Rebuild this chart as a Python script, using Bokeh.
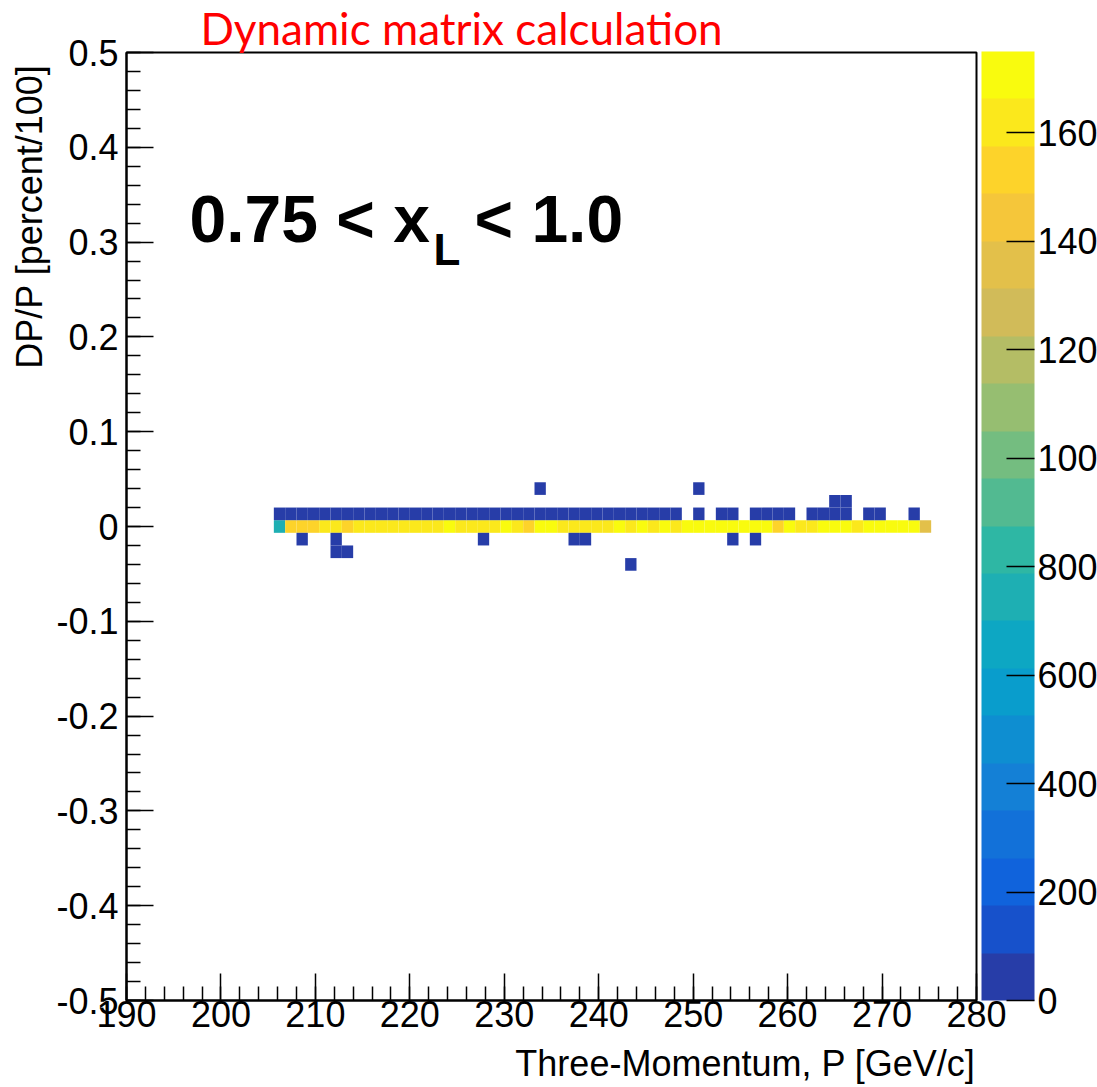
import numpy as np
from bokeh.plotting import figure
from bokeh.models import (LinearColorMapper, ColorBar, FixedTicker, Label,
                          ColumnDataSource, Title)
from bokeh.embed import file_html
from bokeh.resources import INLINE

# ---------------- data ----------------
bin_width_p = 1.2          # GeV/c
bin_height_dp = 1.0 / 75   # percent/100
z_low, z_high = 0, 1750

x_ticks = [190, 200, 210, 220, 230, 240, 250, 260, 270, 280]
x_tick_labels = ["190", "200", "210", "220", "230", "240", "250", "260", "270", "280"]
y_ticks = [-0.5, -0.4, -0.3, -0.2, -0.1, 0.0, 0.1, 0.2, 0.3, 0.4, 0.5]
y_tick_labels = ["-0.5", "-0.4", "-0.3", "-0.2", "-0.1", "0", "0.1", "0.2", "0.3", "0.4", "0.5"]
z_ticks = [0, 200, 400, 600, 800, 1000, 1200, 1400, 1600]

# row dP/P = 0
row_0_p = [206.2, 207.4, 208.6, 209.8, 211.0, 212.2, 213.4, 214.6, 215.8, 217.0,
           218.2, 219.4, 220.6, 221.8, 223.0, 224.2, 225.4, 226.6, 227.8, 229.0,
           230.2, 231.4, 232.6, 233.8, 235.0, 236.2, 237.4, 238.6, 239.8, 241.0,
           242.2, 243.4, 244.6, 245.8, 247.0, 248.2, 249.4, 250.6, 251.8, 253.0,
           254.2, 255.4, 256.6, 257.8, 259.0, 260.2, 261.4, 262.6, 263.8, 265.0,
           266.2, 267.4, 268.6, 269.8, 271.0, 272.2, 273.4, 274.6]
row_0_counts = [742, 1521, 1538, 1545, 1612, 1597, 1552, 1608, 1626, 1589,
                1641, 1617, 1603, 1630, 1594, 1688, 1622, 1611, 1645, 1599,
                1695, 1628, 1540, 1702, 1681, 1619, 1634, 1606, 1648, 1613,
                1677, 1626, 1690, 1615, 1684, 1639, 1711, 1693, 1726, 1680,
                1704, 1698, 1719, 1687, 1549, 1706, 1637, 1621, 1692, 1714,
                1700, 1643, 1697, 1722, 1685, 1708, 1691, 1352]

# row dP/P = +0.0133
row_p1_p = [206.2, 207.4, 208.6, 209.8, 211.0, 212.2, 213.4, 214.6, 215.8, 217.0,
            218.2, 219.4, 220.6, 221.8, 223.0, 224.2, 225.4, 226.6, 227.8, 229.0,
            230.2, 231.4, 232.6, 233.8, 235.0, 236.2, 237.4, 238.6, 239.8, 241.0,
            242.2, 243.4, 244.6, 245.8, 247.0, 248.2, 250.6, 253.0, 254.2, 256.6,
            257.8, 259.0, 260.2, 262.6, 263.8, 265.0, 266.2, 268.6, 269.8, 273.4]
row_p1_counts = [41, 38, 45, 36, 52, 47, 39, 44, 50, 42,
                 37, 48, 46, 40, 43, 51, 35, 49, 41, 38,
                 44, 47, 36, 53, 40, 45, 39, 42, 34, 37,
                 30, 33, 28, 31, 26, 22, 6, 8, 11, 9,
                 12, 7, 10, 14, 9, 16, 13, 5, 7, 3]

# row dP/P = +0.0267
row_p2_p = [265.0, 266.2]
row_p2_counts = [2, 3]

# row dP/P = +0.04
row_p3_p = [233.8, 250.6]
row_p3_counts = [1, 1]

# row dP/P = -0.0133
row_m1_p = [208.6, 212.2, 227.8, 237.4, 238.6, 254.2, 256.6]
row_m1_counts = [2, 3, 1, 2, 2, 1, 1]

# row dP/P = -0.0267
row_m2_p = [212.2, 213.4]
row_m2_counts = [1, 2]

# row dP/P = -0.04
row_m3_p = [243.4]
row_m3_counts = [1]

row_dp = [0.0, 0.01333, 0.02667, 0.04, -0.01333, -0.02667, -0.04]
rows_p = [row_0_p, row_p1_p, row_p2_p, row_p3_p, row_m1_p, row_m2_p, row_m3_p]
rows_counts = [row_0_counts, row_p1_counts, row_p2_counts, row_p3_counts,
               row_m1_counts, row_m2_counts, row_m3_counts]

# ---------------- palette (ROOT kBird, 20 contour levels) ----------------
stops = [0.0, 0.125, 0.25, 0.375, 0.5, 0.625, 0.75, 0.875, 1.0]
red = [0.2082, 0.0592, 0.0780, 0.0232, 0.1802, 0.5301, 0.8186, 0.9956, 0.9764]
green = [0.1664, 0.3599, 0.5041, 0.6419, 0.7178, 0.7492, 0.7328, 0.7862, 0.9832]
blue = [0.5293, 0.8684, 0.8385, 0.7914, 0.6425, 0.4662, 0.3499, 0.1968, 0.0539]
ncont, ncol = 20, 255
palette = []
for i in range(ncont):
    j = int((i + 0.99) * ncol / ncont)
    t = min(j / (ncol - 1), 1.0)
    r = np.interp(t, stops, red)
    g = np.interp(t, stops, green)
    b = np.interp(t, stops, blue)
    palette.append("#%02x%02x%02x" % (int(round(r * 255)), int(round(g * 255)), int(round(b * 255))))

mapper = LinearColorMapper(palette=palette, low=z_low, high=z_high)

xs, ys, zs = [], [], []
for dp, ps, cs in zip(row_dp, rows_p, rows_counts):
    xs += ps
    ys += [dp] * len(ps)
    zs += cs
src = ColumnDataSource(dict(p=xs, dp=ys, count=zs))

# ---------------- figure ----------------
W, H = 1097, 1087
left, top, fw, fh = 126, 51, 850, 949
p = figure(width=W, height=H, x_range=(190, 280), y_range=(-0.5, 0.5),
           output_backend="svg", toolbar_location=None,
           min_border_left=left, min_border_top=top,
           min_border_right=W - left - fw, min_border_bottom=H - top - fh)
p.background_fill_color = "white"
p.border_fill_color = "white"
p.outline_line_color = "black"
p.outline_line_width = 2
p.grid.visible = False

# title (red, above the frame)
p.title.text = "Dynamic matrix calculation"
p.title.align = "left"
p.title.offset = 74
try:
    p.title.standoff = -2
except Exception:
    p.title.standoff = 0
p.title.text_font = "Lato"
p.title.text_font_size = "44px"
p.title.text_font_style = "normal"
p.title.text_color = "red"

p.rect(x="p", y="dp", width=bin_width_p, height=bin_height_dp, source=src,
       fill_color={"field": "count", "transform": mapper}, line_color=None)

axis_font = "Liberation Sans"
fs = "36px"
for ax in (p.xaxis[0], p.yaxis[0]):
    ax.axis_line_width = 2
    ax.major_tick_in = 27
    ax.major_tick_out = 0
    ax.minor_tick_in = 14
    ax.minor_tick_out = 0
    ax.major_tick_line_width = 1.5
    ax.minor_tick_line_width = 1.5
    ax.major_label_text_font = axis_font
    ax.major_label_text_font_size = fs
    ax.major_label_text_color = "black"

p.xaxis.ticker = FixedTicker(ticks=x_ticks,
                             minor_ticks=[190 + 2 * i for i in range(46)])
p.xaxis.major_label_overrides = dict(zip(x_ticks, x_tick_labels))
p.xaxis.major_label_standoff = 0
p.yaxis.ticker = FixedTicker(ticks=y_ticks,
                             minor_ticks=[round(-0.5 + 0.02 * i, 2) for i in range(51)])
p.yaxis.major_label_overrides = dict(zip(y_ticks, y_tick_labels))
p.yaxis.major_label_standoff = 8

# axis titles, right/top aligned as in ROOT
p.add_layout(Title(text=" ", standoff=0, text_font=axis_font,
                   text_font_size="7px"), "below")
p.add_layout(Title(text="Three-Momentum, P [GeV/c]", align="right", offset=1,
                   standoff=4, text_font=axis_font, text_font_size=fs,
                   text_font_style="normal", text_color="black"), "below")
p.add_layout(Title(text="DP/P [percent/100]", align="right", offset=12,
                   standoff=8, text_font=axis_font, text_font_size=fs,
                   text_font_style="normal", text_color="black"), "left")

# colour bar
cb = ColorBar(color_mapper=mapper, ticker=FixedTicker(ticks=z_ticks),
              width=53, height=fh, location=(fw + 5, 0), padding=0, margin=0,
              major_tick_in=28, major_tick_out=0, major_tick_line_color="black",
              major_tick_line_width=1.5, minor_tick_line_color=None,
              label_standoff=3, bar_line_color=None, border_line_color=None,
              background_fill_alpha=0,
              major_label_text_font=axis_font, major_label_text_font_size=fs,
              major_label_text_color="black")
p.add_layout(cb, "center")

# in-frame label "0.75 < x_L < 1.0" (screen units from the frame's bottom-left)
def sx(xref):
    return xref - left

def sy(yref):
    return (top + fh) - yref

p.add_layout(Label(x=sx(189), y=sy(218), x_units="screen", y_units="screen",
                   text="0.75 < x", text_align="left", text_baseline="alphabetic",
                   text_font="Liberation Sans", text_font_style="bold",
                   text_font_size="66px", text_color="black"))
p.add_layout(Label(x=sx(433), y=sy(249), x_units="screen", y_units="screen",
                   text="L", text_align="left", text_baseline="alphabetic",
                   text_font="Liberation Sans", text_font_style="bold",
                   text_font_size="44px", text_color="black"))
p.add_layout(Label(x=sx(474), y=sy(218), x_units="screen", y_units="screen",
                   text="< 1.0", text_align="left", text_baseline="alphabetic",
                   text_font="Liberation Sans", text_font_style="bold",
                   text_font_size="66px", text_color="black"))

open("out.html", "w").write(file_html(p, INLINE))
